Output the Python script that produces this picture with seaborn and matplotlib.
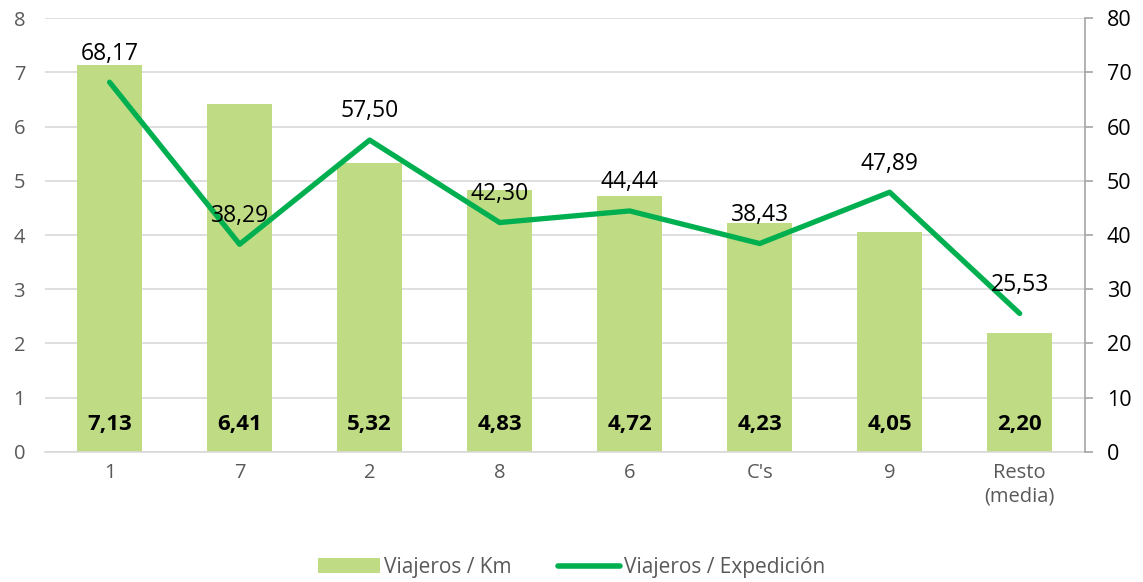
import numpy as np
import pandas as pd
import matplotlib
matplotlib.use('Agg')
import matplotlib.pyplot as plt
import seaborn as sns
from matplotlib.patches import Patch
from matplotlib.lines import Line2D

# Datos
categorias = ['1', '7', '2', '8', '6', "C's", '9', 'Resto\n(media)']
viajeros_km = [7.13, 6.41, 5.32, 4.83, 4.72, 4.23, 4.05, 2.20]
viajeros_exp = [68.17, 38.29, 57.50, 42.30, 44.44, 38.43, 47.89, 25.53]

color_barra = '#BFDC84'
color_linea = '#00B050'
gris = '#595959'

sns.set_style('white')
plt.rcParams['font.family'] = ['Open Sans', 'DejaVu Sans']

df = pd.DataFrame({'cat': categorias, 'km': viajeros_km, 'exp': viajeros_exp})
df['pos'] = np.arange(len(df))

fig = plt.figure(figsize=(11.43, 5.82), dpi=100)
ax = fig.add_axes([0.039, 0.2234, 0.91, 0.7456])

sns.barplot(data=df, x='cat', y='km', color=color_barra, width=0.5,
            saturation=1, ax=ax, zorder=2, edgecolor='none', linewidth=0)
ax.set_ylim(0, 8)
ax.set_xlim(-0.5, len(df) - 0.5)
ax.set_yticks(range(0, 9))
ax.grid(axis='y', color='#D9D9D9', linewidth=1.2, zorder=0)
ax.set_axisbelow(True)
ax.set_xlabel('')
ax.set_ylabel('')
for s in ['top', 'right', 'left']:
    ax.spines[s].set_visible(False)
ax.spines['bottom'].set_color('#D9D9D9')
ax.spines['bottom'].set_linewidth(1.2)
ax.tick_params(axis='both', length=0, labelsize=14.5, labelcolor=gris, pad=8)
ax.tick_params(axis='y', pad=14)

# etiquetas de las barras
for i, v in enumerate(df['km']):
    ax.text(i, 0.5, f'{v:.2f}'.replace('.', ','), ha='center', va='center',
            fontsize=16, fontweight='bold', color='black', zorder=5)

ax2 = ax.twinx()
sns.lineplot(data=df, x='pos', y='exp', color=color_linea, linewidth=3.8,
             ax=ax2, zorder=4, solid_capstyle='round')
ax2.set_ylim(0, 80)
ax2.set_yticks(range(0, 81, 10))
ax2.set_ylabel('')
ax2.set_xlim(-0.5, len(df) - 0.5)
for s in ['top', 'left', 'bottom']:
    ax2.spines[s].set_visible(False)
ax2.spines['right'].set_color('#A6A6A6')
ax2.spines['right'].set_linewidth(1.2)
ax2.tick_params(axis='y', length=6, width=1.2, color='#A6A6A6', labelsize=15.5,
                labelcolor='black', direction='out', pad=10)

for i, v in enumerate(df['exp']):
    ax2.annotate(f'{v:.2f}'.replace('.', ','), (i, v), xytext=(0, 12),
                 textcoords='offset points', ha='center', va='bottom',
                 fontsize=16.5, color='black', zorder=6)

handles = [Patch(facecolor=color_barra, edgecolor='none'),
           Line2D([0], [0], color=color_linea, linewidth=4)]
fig.legend(handles, ['Viajeros / Km', 'Viajeros / Expedición'], loc='lower center',
           bbox_to_anchor=(0.5, -0.025), ncol=2, frameon=False, fontsize=15,
           labelcolor=gris, handlelength=3.0, handletextpad=0.2, columnspacing=2.2)

fig.savefig('out.png', dpi=100)
